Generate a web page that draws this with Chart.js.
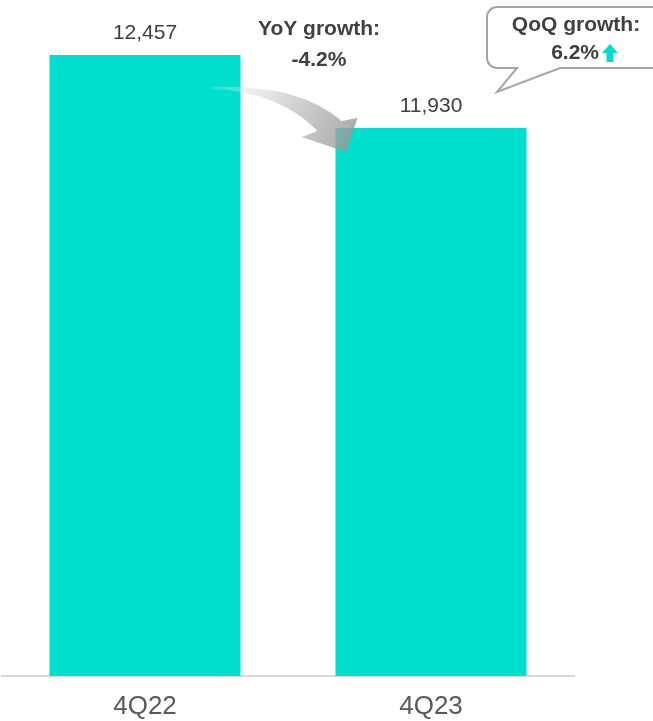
<!DOCTYPE html>
<html>
<head>
<meta charset="utf-8">
<script src="https://cdn.jsdelivr.net/npm/chart.js@4"></script>
<style>
  html, body { margin: 0; padding: 0; background: #ffffff; }
  canvas { display: block; }
</style>
</head>
<body>
<canvas id="chart" width="653" height="721"></canvas>
<script>
// Quarterly totals
const quarters = ['4Q22', '4Q23'];
const totals = [12457, 11930];

// Growth callouts
const yoyLabel = ['YoY growth:', '-4.2%'];
const qoqLabel = ['QoQ growth:', '6.2%'];

// Value axis window (axis itself is hidden)
const yMin = 7973;
const yMax = 12854;

const FONT = '"Liberation Sans", Arial, sans-serif';
const BAR = '#00DECE';
const TEXT = '#404040';

// Value labels above each bar
const valueLabels = {
  id: 'valueLabels',
  afterDatasetsDraw(chart) {
    const ctx = chart.ctx;
    const meta = chart.getDatasetMeta(0);
    ctx.save();
    ctx.font = '21px ' + FONT;
    ctx.fillStyle = TEXT;
    ctx.textAlign = 'center';
    ctx.textBaseline = 'middle';
    meta.data.forEach((bar, i) => {
      ctx.fillText(totals[i].toLocaleString('en-US'), bar.x, bar.y - 22);
    });
    ctx.restore();
  }
};

// Curved year-over-year arrow, text and the quarter-over-quarter speech bubble
const annotations = {
  id: 'annotations',
  afterDatasetsDraw(chart) {
    const ctx = chart.ctx;
    const meta = chart.getDatasetMeta(0);
    const b1 = meta.data[0], b2 = meta.data[1];
    const b1r = b1.x + b1.width / 2;
    const b2l = b2.x - b2.width / 2;

    // curved arrow from the first bar into the second
    const sx = b1r - 28, sy = b1.y + 33;
    const tx = b2l + 11, ty = b2.y + 24;
    ctx.save();
    const g = ctx.createLinearGradient(sx, sy, tx, ty);
    g.addColorStop(0, 'rgba(235,235,235,0.2)');
    g.addColorStop(0.5, 'rgba(200,200,200,0.75)');
    g.addColorStop(1, 'rgba(150,150,150,0.8)');
    ctx.fillStyle = g;
    ctx.beginPath();
    ctx.moveTo(sx, sy - 1);
    ctx.quadraticCurveTo(sx + 87, sy - 4, tx - 5, ty - 31);
    ctx.lineTo(tx + 11, ty - 34);
    ctx.lineTo(tx, ty);
    ctx.lineTo(tx - 45, ty - 15);
    ctx.lineTo(tx - 29, ty - 21);
    ctx.quadraticCurveTo(sx + 67, sy + 4, sx, sy + 1);
    ctx.closePath();
    ctx.fill();
    ctx.restore();

    // YoY text
    ctx.save();
    ctx.font = 'bold 21px ' + FONT;
    ctx.fillStyle = TEXT;
    ctx.textAlign = 'center';
    ctx.textBaseline = 'middle';
    const yx = (b1r + b2l) / 2 + 31;
    ctx.fillText(yoyLabel[0], yx, 29);
    ctx.fillText(yoyLabel[1], yx, 60);
    ctx.restore();

    // speech bubble
    ctx.save();
    const L = 487, T = 7, R = 680, B = 68, r = 10;
    ctx.beginPath();
    ctx.moveTo(L + r, T);
    ctx.lineTo(R, T);
    ctx.lineTo(R, B);
    ctx.lineTo(560, B);
    ctx.lineTo(497, 92);
    ctx.lineTo(517, B);
    ctx.lineTo(L + r, B);
    ctx.arcTo(L, B, L, B - r, r);
    ctx.lineTo(L, T + r);
    ctx.arcTo(L, T, L + r, T, r);
    ctx.closePath();
    ctx.fillStyle = '#ffffff';
    ctx.fill();
    ctx.strokeStyle = '#a6a6a6';
    ctx.lineWidth = 2;
    ctx.stroke();

    ctx.font = 'bold 21px ' + FONT;
    ctx.fillStyle = TEXT;
    ctx.textAlign = 'center';
    ctx.textBaseline = 'middle';
    ctx.fillText(qoqLabel[0], 576, 25);
    ctx.textAlign = 'right';
    ctx.fillText(qoqLabel[1], 599, 53);

    // small up arrow
    ctx.fillStyle = BAR;
    ctx.beginPath();
    ctx.moveTo(610, 44);
    ctx.lineTo(618, 53);
    ctx.lineTo(613.5, 53);
    ctx.lineTo(613.5, 62);
    ctx.lineTo(606.5, 62);
    ctx.lineTo(606.5, 53);
    ctx.lineTo(602, 53);
    ctx.closePath();
    ctx.fill();
    ctx.restore();
  }
};

new Chart(document.getElementById('chart'), {
  type: 'bar',
  data: {
    labels: quarters,
    datasets: [{
      data: totals,
      backgroundColor: BAR,
      borderWidth: 0,
      categoryPercentage: 1,
      barPercentage: 0.668
    }]
  },
  options: {
    responsive: false,
    animation: false,
    layout: { padding: { left: 2, right: 79, top: 0, bottom: 0 } },
    plugins: { legend: { display: false }, tooltip: { enabled: false } },
    scales: {
      x: {
        grid: { display: false },
        border: { display: true, color: '#d9d9d9', width: 2 },
        ticks: { color: '#595959', font: { size: 26, family: FONT }, padding: 7 },
        afterFit(scale) { scale.height = 45; }
      },
      y: { display: false, min: yMin, max: yMax }
    }
  },
  plugins: [valueLabels, annotations]
});
</script>
</body>
</html>
